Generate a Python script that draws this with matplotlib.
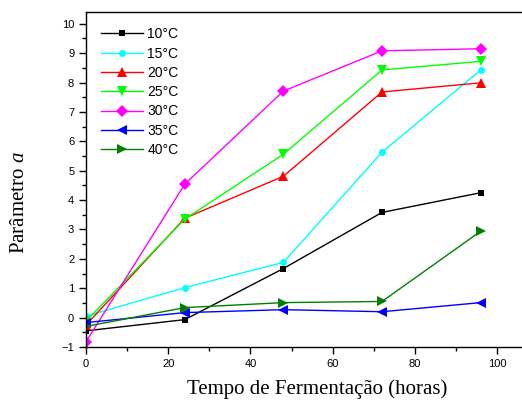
import matplotlib
matplotlib.use("Agg")
import matplotlib.pyplot as plt
from matplotlib.ticker import MultipleLocator

# fermentation time (h) and parameter a for each temperature
hours = [0, 24, 48, 72, 96]
a_10 = [-0.45, -0.07, 1.67, 3.58, 4.25]
a_15 = [0.05, 1.02, 1.88, 5.63, 8.43]
a_20 = [-0.25, 3.38, 4.81, 7.68, 7.99]
a_25 = [-0.12, 3.35, 5.56, 8.43, 8.72]
a_30 = [-0.82, 4.54, 7.71, 9.08, 9.15]
a_35 = [-0.17, 0.17, 0.27, 0.20, 0.51]
a_40 = [-0.30, 0.34, 0.51, 0.55, 2.94]

labels = ["10°C", "15°C", "20°C", "25°C", "30°C", "35°C", "40°C"]
series = [a_10, a_15, a_20, a_25, a_30, a_35, a_40]
colors = ["#000000", "#00ffff", "#ff0000", "#00ff00", "#ff00ff", "#0000ff", "#008000"]
markers = ["s", "o", "^", "v", "D", "<", ">"]
msizes = [5, 5, 7, 7, 6, 7, 7]

plt.rcParams["font.family"] = ["Liberation Sans", "DejaVu Sans"]
plt.rcParams["mathtext.fontset"] = "custom"
plt.rcParams["mathtext.it"] = "Liberation Serif:italic"
plt.rcParams["mathtext.rm"] = "Liberation Serif"

fig = plt.figure(figsize=(5.22, 4.01), dpi=100)
ax = fig.add_axes([0.1648, 0.1347, 0.8372, 0.8353])

for y, lab, c, m, ms in zip(series, labels, colors, markers, msizes):
    ax.plot(hours, y, color=c, marker=m, markersize=ms, linewidth=1.0,
            markeredgewidth=0, label=lab)

ax.set_xlim(0, 106.3)
ax.set_ylim(-1, 10.4)
ax.xaxis.set_major_locator(MultipleLocator(20))
ax.xaxis.set_minor_locator(MultipleLocator(10))
ax.yaxis.set_major_locator(MultipleLocator(1))
ax.yaxis.set_minor_locator(MultipleLocator(0.5))
ax.tick_params(which="major", direction="out", length=5, width=1, labelsize=8)
ax.tick_params(which="minor", direction="out", length=3, width=1)
ax.spines["right"].set_visible(False)
for s in ["left", "bottom", "top"]:
    ax.spines[s].set_linewidth(1.0)

ax.set_xlabel("Tempo de Fermentação (horas)", family=["Liberation Serif"],
              fontsize=15)
ax.set_ylabel(r"Parâmetro $a$", family=["Liberation Serif"], fontsize=15)
ax.xaxis.set_label_coords(0.528, -0.097)
ax.yaxis.set_label_coords(-0.131, 0.43)

leg = ax.legend(loc="upper left", frameon=False, fontsize=10, handlelength=3.0,
                labelspacing=0.38, handletextpad=0.3, borderaxespad=0.7)

fig.savefig("out.png", dpi=100)
